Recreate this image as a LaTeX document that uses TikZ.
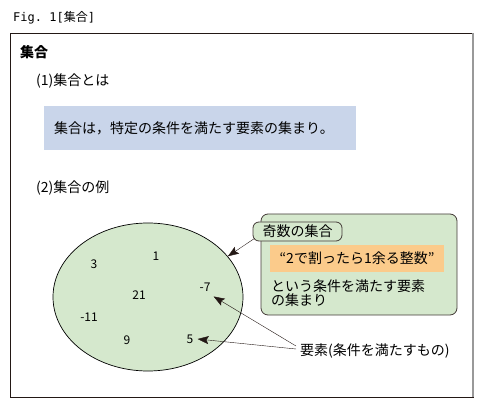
\documentclass[tikz,border=0pt]{standalone}
\usepackage{fontspec}
\setmainfont{Noto Sans CJK JP}
\setmonofont{DejaVu Sans Mono}
\definecolor{SetGreen}{HTML}{D5E8CD}
\definecolor{DefBlue}{HTML}{C9D5EA}
\definecolor{CondOrange}{HTML}{FBCB8B}
\definecolor{FrameDark}{HTML}{231815}
\usetikzlibrary{arrows.meta, positioning, shapes.geometric}

\begin{document}
\begin{tikzpicture}[x=1pt, y=-1pt, >={Stealth[length=11pt, width=8pt, inset=2pt]},
  every node/.style={font=\fontsize{14}{16}\selectfont, inner sep=0pt},
  num/.style={font=\fontsize{12}{14}\selectfont},
  greenbox/.style={draw=FrameDark!85, fill=SetGreen, rounded corners=7pt, line width=0.8pt}]
  \useasboundingbox (0,0) rectangle (484,411);

  % Caption and frame
  \node[anchor=west, font=\fontsize{12}{14}\selectfont] (cap) at (13,18)
    {{\ttfamily Fig. 1[}集合{\ttfamily ]}};
  \draw[FrameDark, line width=0.9pt] (10,33) rectangle (473,397);
  \draw[gray!80, line width=2pt] (473,33) -- (473,397);
  \node[anchor=west, font=\fontsize{14}{16}\selectfont\bfseries] (title) at (20,52) {集合};

  % (1) definition
  \node[anchor=west] (sec1) at (36,81) {(1)集合とは};
  \node[fill=DefBlue, minimum width=312pt, minimum height=44pt, anchor=north west,
    text width=292pt] (def) at (44,106) {集合は，特定の条件を満たす要素の集まり。};

  % (2) example
  \node[anchor=west] (sec2) at (36,188) {(2)集合の例};
  \node[draw, fill=SetGreen, ellipse, minimum width=190pt, minimum height=148pt,
    line width=0.7pt] (set) at (148,297) {};

  % elements
  \node[num] (e3)  at (94,264)  {3};
  \node[num] (e1)  at (156,256) {1};
  \node[num] (e21) at (139,295) {21};
  \node[num] (e7)  at (205,287) {-7};
  \node[num] (e11) at (89,317)  {-11};
  \node[num] (e9)  at (127,340) {9};
  \node[num] (e5)  at (190,339) {5};

  % explanation box
  \node[greenbox, minimum width=196pt, minimum height=101pt] (expl) at (359,264.5) {};
  \node[greenbox, rounded corners=6pt, minimum width=89pt, minimum height=19pt] (tag)
    at (297.5,231.5) {奇数の集合};
  \node[fill=CondOrange, minimum width=174pt, minimum height=27pt] (cond) at (357,258.5)
    {“2で割ったら1余る整数”};
  \node[anchor=north west, align=left, font=\fontsize{14}{14}\selectfont] (note)
    at (271,280) {という条件を満たす要素\\の集まり};

  % element label
  \node[anchor=west] (elem) at (300,351) {要素(条件を満たすもの)};

  % arrows
  \draw[->, FrameDark] (tag.south west) ++(2,-3) coordinate (tagend) -- (set.27);
  \draw[->, FrameDark] (elem.west) ++(-4,-5) coordinate (elemA) -- ([xshift=3pt, yshift=-5pt]e7.south east);
  \draw[->, FrameDark] (elem.west) ++(-4,-2) coordinate (elemB) -- ([xshift=4pt]e5.east);
\end{tikzpicture}
\end{document}
